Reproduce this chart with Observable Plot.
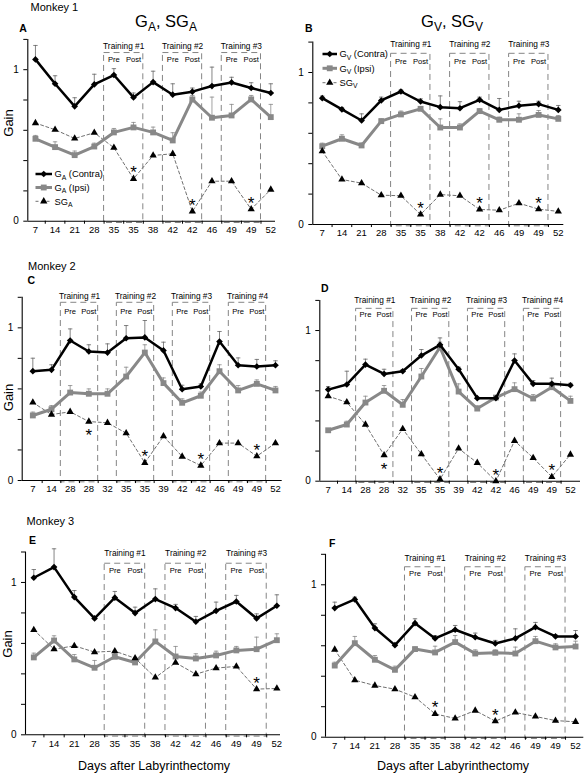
<!DOCTYPE html>
<html><head><meta charset="utf-8">
<script src="https://cdn.jsdelivr.net/npm/d3@7"></script>
<script src="https://cdn.jsdelivr.net/npm/@observablehq/plot@0.6"></script>
<style>
body{margin:0;background:#fff;}
#page{position:relative;width:585px;height:773px;overflow:hidden;background:#fff;}
#page svg{position:absolute;}
</style></head>
<body><div id="page"></div>
<script>
const FONT = '"Liberation Sans", Arial, Helvetica, sans-serif';

// ---- categories (x tick labels) ----
const catsM1 = ["7","14","21","28","35","35","38","42","42","46","49","49","52"];
const catsM2 = ["7","14","28","28","32","35","35","39","42","42","46","49","49","52"];
const catsM3 = ["7","14","21","28","35","35","38","42","42","46","49","49","52"];

// training blocks: [pre index, post index]
const trainM1 = [[4,5],[7,8],[10,11]];
const trainM2 = [[2,3],[5,6],[8,9],[11,12]];
const trainM3 = [[4,5],[7,8],[10,11]];

// ---- Panel A (Monkey 1, G_A / SG_A) ----
const A_contra    = [1.068,0.907,0.758,0.903,0.965,0.817,0.918,0.835,0.855,0.892,0.916,0.879,0.846];
const A_contraErr = [1.160,0.960,0.815,0.970,1.007,0.846,0.990,0.907,0.879,1.017,0.950,0.914,0.907];
const A_ipsi      = [0.544,0.489,0.436,0.493,0.586,0.619,0.586,0.533,0.804,0.683,0.698,0.804,0.687];
const A_ipsiErr   = [0.566,0.524,0.463,0.515,0.612,0.652,0.621,0.584,0.830,0.819,0.771,0.830,0.771];
const A_sg        = [0.648,0.604,0.546,0.584,0.485,0.280,0.434,0.445,0.064,0.264,0.264,0.079,0.209];
const A_starsUp = [5,8,11], A_starsDown = [];

// ---- Panel B (Monkey 1, G_V / SG_V) ----
const B_contra    = [0.831,0.757,0.684,0.816,0.875,0.809,0.772,0.765,0.820,0.754,0.781,0.792,0.754];
const B_contraErr = [0.845,0.770,0.728,0.838,0.886,0.827,0.846,0.808,0.838,0.829,0.811,0.811,0.783];
const B_ipsi      = [0.515,0.564,0.520,0.680,0.724,0.761,0.638,0.638,0.746,0.689,0.689,0.721,0.695];
const B_ipsiErr   = [0.535,0.590,0.535,0.695,0.746,0.776,0.695,0.662,0.761,0.706,0.728,0.750,0.717];
const B_sg        = [0.482,0.296,0.272,0.193,0.189,0.066,0.197,0.189,0.099,0.094,0.140,0.101,0.086];
const B_starsUp = [5,8,11], B_starsDown = [];

// ---- Panel C (Monkey 2, G_A / SG_A) ----
const C_contra    = [0.716,0.725,0.917,0.845,0.838,0.932,0.937,0.852,0.598,0.616,0.910,0.755,0.747,0.755];
const C_contraErr = [0.801,0.758,0.993,0.889,0.895,1.015,1.048,0.906,0.624,0.633,0.976,0.803,0.793,0.784];
const C_ipsi      = [0.426,0.467,0.576,0.568,0.568,0.681,0.838,0.638,0.509,0.555,0.716,0.590,0.633,0.590];
const C_ipsiErr   = [0.448,0.491,0.622,0.600,0.600,0.742,0.889,0.672,0.535,0.579,0.758,0.622,0.659,0.616];
const C_sg        = [0.511,0.432,0.450,0.386,0.378,0.310,0.116,0.290,0.157,0.098,0.245,0.245,0.159,0.245];
const C_starsUp = [6,9,12], C_starsDown = [3];

// ---- Panel D (Monkey 2, G_V / SG_V) ----
const D_contra    = [0.608,0.642,0.774,0.712,0.730,0.834,0.905,0.743,0.551,0.551,0.801,0.646,0.646,0.637];
const D_contraErr = [0.628,0.730,0.810,0.743,0.741,0.874,0.951,0.757,0.557,0.557,0.845,0.668,0.684,0.650];
const D_ipsi      = [0.338,0.376,0.522,0.600,0.507,0.695,0.889,0.595,0.482,0.555,0.611,0.549,0.624,0.533];
const D_ipsiErr   = [0.347,0.398,0.564,0.635,0.542,0.748,0.923,0.646,0.500,0.564,0.653,0.575,0.657,0.564];
const D_sg        = [0.564,0.524,0.376,0.173,0.347,0.179,0.013,0.217,0.122,0.000,0.268,0.155,0.029,0.177];
const D_starsUp = [6,9,12], D_starsDown = [3];

// ---- Panel E (Monkey 3, G_A / SG_A) ----
const E_contra    = [1.031,1.101,0.904,0.764,0.900,0.799,0.891,0.832,0.742,0.814,0.875,0.764,0.847];
const E_contraErr = [1.085,1.221,0.947,0.764,0.941,0.838,0.958,0.856,0.777,0.871,0.915,0.794,0.919];
const E_ipsi      = [0.508,0.619,0.495,0.440,0.512,0.475,0.613,0.514,0.501,0.521,0.554,0.562,0.621];
const E_ipsiErr   = [0.536,0.650,0.527,0.488,0.536,0.499,0.689,0.580,0.532,0.549,0.580,0.641,0.663];
const E_sg        = [0.689,0.562,0.584,0.543,0.549,0.503,0.376,0.473,0.398,0.438,0.449,0.300,0.304];
const E_starsUp = [11], E_starsDown = [];

// ---- Panel F (Monkey 3, G_V / SG_V) ----
const F_contra    = [0.847,0.904,0.716,0.604,0.748,0.648,0.705,0.656,0.615,0.648,0.722,0.661,0.661];
const F_contraErr = [0.886,0.919,0.744,0.604,0.777,0.667,0.733,0.683,0.635,0.711,0.753,0.672,0.700];
const F_ipsi      = [0.470,0.617,0.508,0.442,0.578,0.556,0.624,0.549,0.554,0.549,0.630,0.589,0.595];
const F_ipsiErr   = [0.492,0.661,0.536,0.466,0.591,0.597,0.667,0.573,0.573,0.591,0.661,0.613,0.630];
const F_sg        = [0.575,0.374,0.339,0.315,0.263,0.153,0.123,0.175,0.105,0.162,0.136,0.109,0.101];
const F_starsUp = [5,8], F_starsDown = [];

// y ticks
const yTicks = [0,0.2,0.4,0.6,0.8,1,1.2];
const yTickLabels = {0:"0", 1:"1"};

// ---- layout (pixel geometry of each panel) ----
const panels = [
  {cats:catsM1, train:trainM1, contra:A_contra, contraErr:A_contraErr, ipsi:A_ipsi, ipsiErr:A_ipsiErr, sg:A_sg, up:A_starsUp, down:A_starsDown,
   L:{x0:0,y0:0,w:292,h:250,left:27.3,right:275,top:38.9,bottom:220.7,xdom:[-0.39,12.24],labelY:1.156,boxTop:1.11,ppY:1.066}},
  {cats:catsM1, train:trainM1, contra:B_contra, contraErr:B_contraErr, ipsi:B_ipsi, ipsiErr:B_ipsiErr, sg:B_sg, up:B_starsUp, down:B_starsDown,
   L:{x0:292,y0:0,w:293,h:250,left:312.3,right:563.3,top:41.6,bottom:224,xdom:[-0.48,12.28],labelY:1.186,boxTop:1.123,ppY:1.072}},
  {cats:catsM2, train:trainM2, contra:C_contra, contraErr:C_contraErr, ipsi:C_ipsi, ipsiErr:C_ipsiErr, sg:C_sg, up:C_starsUp, down:C_starsDown,
   L:{x0:0,y0:250,w:292,h:255,left:21.7,right:281.7,top:296.8,bottom:480,xdom:[-0.57,13.36],labelY:1.207,boxTop:1.164,ppY:1.107}},
  {cats:catsM2, train:trainM2, contra:D_contra, contraErr:D_contraErr, ipsi:D_ipsi, ipsiErr:D_ipsiErr, sg:D_sg, up:D_starsUp, down:D_starsDown,
   L:{x0:292,y0:250,w:293,h:255,left:319.3,right:580,top:299.9,bottom:480.7,xdom:[-0.45,13.54],labelY:1.2,boxTop:1.144,ppY:1.104}},
  {cats:catsM3, train:trainM3, contra:E_contra, contraErr:E_contraErr, ipsi:E_ipsi, ipsiErr:E_ipsiErr, sg:E_sg, up:E_starsUp, down:E_starsDown,
   L:{x0:0,y0:505,w:292,h:268,left:25,right:280,top:551.5,bottom:734.3,xdom:[-0.41,12.18],labelY:1.192,boxTop:1.123,ppY:1.079}},
  {cats:catsM3, train:trainM3, contra:F_contra, contraErr:F_contraErr, ipsi:F_ipsi, ipsiErr:F_ipsiErr, sg:F_sg, up:F_starsUp, down:F_starsDown,
   L:{x0:292,y0:505,w:293,h:268,left:325,right:583.3,top:553.8,bottom:736.7,xdom:[-0.46,12.41],labelY:1.175,boxTop:1.115,ppY:1.072}}
];

const GRAY = "#888888";
const BOXC = "#858585";
const diamondSym = d3.symbolDiamond2 || "diamond";

const page = document.getElementById("page");

for (const P of panels) {
  const L = P.L;
  const n = P.cats.length;
  const idx = d3.range(n);
  const rows = idx.map(i => ({i, contra:P.contra[i], contraErr:P.contraErr[i], ipsi:P.ipsi[i], ipsiErr:P.ipsiErr[i], sg:P.sg[i]}));
  const boxes = P.train.map(([pre, post], k) => ({k:k+1, pre, post, x1:pre-0.5, x2:post+0.5}));
  const bounds = idx.slice(0, -1).map(i => i + 0.5);
  const step = (L.right - L.left) / (L.xdom[1] - L.xdom[0]);
  const cap = 2.2 / step;
  const up = P.up.map(i => ({i, v:P.sg[i]}));
  const down = P.down.map(i => ({i, v:P.sg[i]}));

  const svg = Plot.plot({
    width: L.w, height: L.h,
    marginLeft: L.left - L.x0, marginRight: L.x0 + L.w - L.right,
    marginTop: L.top - L.y0, marginBottom: L.y0 + L.h - L.bottom,
    x: {type:"linear", domain:L.xdom},
    y: {type:"linear", domain:[0,1.2]},
    style: {fontFamily: FONT, fontSize: "10px", background: "transparent", overflow: "visible", color: "#000"},
    marks: [
      // training boxes
      Plot.rect(boxes, {x1:"x1", x2:"x2", y1:-0.012, y2:L.boxTop, fill:"none", stroke:BOXC, strokeWidth:1, strokeDasharray:"6,4"}),
      Plot.text(boxes, {x:d => (d.x1 + d.x2) / 2, y:L.labelY, text:d => `Training #${d.k}`, fontSize:8.3}),
      Plot.text(boxes, {x:"pre", y:L.ppY, text:() => "Pre", fontSize:7.6}),
      Plot.text(boxes, {x:"post", y:L.ppY, text:() => "Post", fontSize:7.6}),
      // axes
      Plot.ruleX([L.xdom[0]], {y1:0, y2:1.2, stroke:"#000", strokeWidth:1.1}),
      Plot.axisY({ticks:yTicks, tickSize:4, tickPadding:5, tickFormat:d => yTickLabels[d] ?? "", label:null, fontSize:10}),
      Plot.ruleX(bounds, {x:d => d, y1:0, y2:-0.02, stroke:"#000"}),
      Plot.axisX({ticks:idx, tickSize:0, tickPadding:5, tickFormat:i => P.cats[i], label:null, fontSize:9.5}),
      Plot.ruleY([0], {stroke:"#000", strokeWidth:1.1}),
      // error bars
      Plot.ruleX(rows, {x:"i", y1:"ipsi", y2:"ipsiErr", stroke:"#8a8a8a", strokeWidth:0.8}),
      Plot.link(rows, {x1:d => d.i - cap, x2:d => d.i + cap, y1:"ipsiErr", y2:"ipsiErr", stroke:"#8a8a8a", strokeWidth:0.8}),
      Plot.ruleX(rows, {x:"i", y1:"contra", y2:"contraErr", stroke:"#666", strokeWidth:0.8}),
      Plot.link(rows, {x1:d => d.i - cap, x2:d => d.i + cap, y1:"contraErr", y2:"contraErr", stroke:"#666", strokeWidth:0.8}),
      // SG (dashed, triangles)
      Plot.line(rows, {x:"i", y:"sg", stroke:"#707070", strokeWidth:1, strokeDasharray:"3,2.5"}),
      // Ipsi (gray, squares)
      Plot.line(rows, {x:"i", y:"ipsi", stroke:GRAY, strokeWidth:3}),
      Plot.dot(rows, {x:"i", y:"ipsi", symbol:"square", fill:GRAY, r:3.3}),
      // Contra (black, diamonds)
      Plot.line(rows, {x:"i", y:"contra", stroke:"#000", strokeWidth:2.5}),
      Plot.dot(rows, {x:"i", y:"contra", symbol:diamondSym, fill:"#000", r:3}),
      Plot.dot(rows, {x:"i", y:"sg", symbol:"triangle", fill:"#000", r:2.7}),
      // significance stars
      Plot.text(up, {x:"i", y:"v", text:() => "*", dy:-6, fontSize:17}),
      Plot.text(down, {x:"i", y:"v", text:() => "*", dy:14, fontSize:17})
    ]
  });
  svg.style.left = L.x0 + "px";
  svg.style.top = L.y0 + "px";
  page.appendChild(svg);
}

// ---- overlay text: labels, titles, legends ----
const ov = d3.select(page).append("svg")
  .attr("width", 585).attr("height", 773)
  .style("left", "0px").style("top", "0px").style("pointer-events", "none")
  .attr("font-family", FONT).attr("fill", "#000");

function plain(x, y, s, size, opts = {}) {
  const t = ov.append("text").attr("x", x).attr("y", y).attr("font-size", size).text(s);
  if (opts.bold) t.attr("font-weight", "bold");
  if (opts.anchor) t.attr("text-anchor", opts.anchor);
  if (opts.transform) t.attr("transform", opts.transform).attr("x", 0).attr("y", 0);
  return t;
}
function subbed(x, y, parts, size, subSize, shift, anchor) {
  const t = ov.append("text").attr("x", x).attr("y", y).attr("font-size", size);
  if (anchor) t.attr("text-anchor", anchor);
  let prevSub = false;
  for (const [s, isSub] of parts) {
    const ts = t.append("tspan").text(s);
    if (isSub) { ts.attr("font-size", subSize).attr("dy", shift); }
    else if (prevSub) { ts.attr("dy", -shift); }
    prevSub = isSub;
  }
  return t;
}

// Monkey labels & panel letters
plain(30.5, 10.5, "Monkey 1", 11);
plain(28, 270.3, "Monkey 2", 11);
plain(26.5, 525, "Monkey 3", 11);
plain(19.3, 31.7, "A", 10.5, {bold:true});
plain(305, 31.7, "B", 10.5, {bold:true});
plain(27.5, 284, "C", 10.5, {bold:true});
plain(321, 291.7, "D", 10.5, {bold:true});
plain(29, 544.3, "E", 10.5, {bold:true});
plain(329, 546.7, "F", 10.5, {bold:true});

// Titles
subbed(166, 27.3, [["G",false],["A",true],[", SG",false],["A",true]], 16.5, 12, 3.5, "middle");
subbed(452, 27.3, [["G",false],["V",true],[", SG",false],["V",true]], 16.5, 12, 3.5, "middle");

// Y axis titles
plain(0, 0, "Gain", 13, {anchor:"middle", transform:"translate(12.5,123) rotate(-90)"});
plain(0, 0, "Gain", 13, {anchor:"middle", transform:"translate(12.5,397.5) rotate(-90)"});
plain(0, 0, "Gain", 13, {anchor:"middle", transform:"translate(12,644) rotate(-90)"});

// X axis titles
plain(154, 770, "Days after Labyrinthectomy", 12.5, {anchor:"middle"});
plain(453, 770, "Days after Labyrinthectomy", 12.5, {anchor:"middle"});

// Legends
function legend(x0, x1, ys, letter) {
  const xm = (x0 + x1) / 2;
  const g = ov.append("g");
  // Contra
  g.append("line").attr("x1", x0).attr("x2", x1).attr("y1", ys[0]).attr("y2", ys[0]).attr("stroke", "#000").attr("stroke-width", 2.5);
  g.append("path").attr("transform", `translate(${xm},${ys[0]})`).attr("d", d3.symbol(d3.symbolDiamond2 || d3.symbolDiamond, Math.PI * 9)()).attr("fill", "#000");
  // Ipsi
  g.append("line").attr("x1", x0).attr("x2", x1).attr("y1", ys[1]).attr("y2", ys[1]).attr("stroke", GRAY).attr("stroke-width", 3);
  g.append("path").attr("transform", `translate(${xm},${ys[1]})`).attr("d", d3.symbol(d3.symbolSquare, Math.PI * 3.3 * 3.3)()).attr("fill", GRAY);
  // SG
  g.append("line").attr("x1", x0).attr("x2", x1).attr("y1", ys[2]).attr("y2", ys[2]).attr("stroke", "#707070").attr("stroke-width", 1).attr("stroke-dasharray", "3,2.5");
  g.append("path").attr("transform", `translate(${xm},${ys[2]})`).attr("d", d3.symbol(d3.symbolTriangle, Math.PI * 2.7 * 2.7)()).attr("fill", "#000");
  const tx = x1 + 2.5;
  subbed(tx, ys[0] + 3.3, [["G",false],[letter,true],[" (Contra)",false]], 9.3, 6.8, 2.2);
  subbed(tx, ys[1] + 3.3, [["G",false],[letter,true],[" (Ipsi)",false]], 9.3, 6.8, 2.2);
  subbed(tx, ys[2] + 3.3, [["SG",false],[letter,true]], 9.3, 6.8, 2.2);
}
legend(35.5, 52, [174, 187.5, 201.3], "A");
legend(322.5, 337, [54, 68.3, 82.7], "V");
</script>
</body></html>
